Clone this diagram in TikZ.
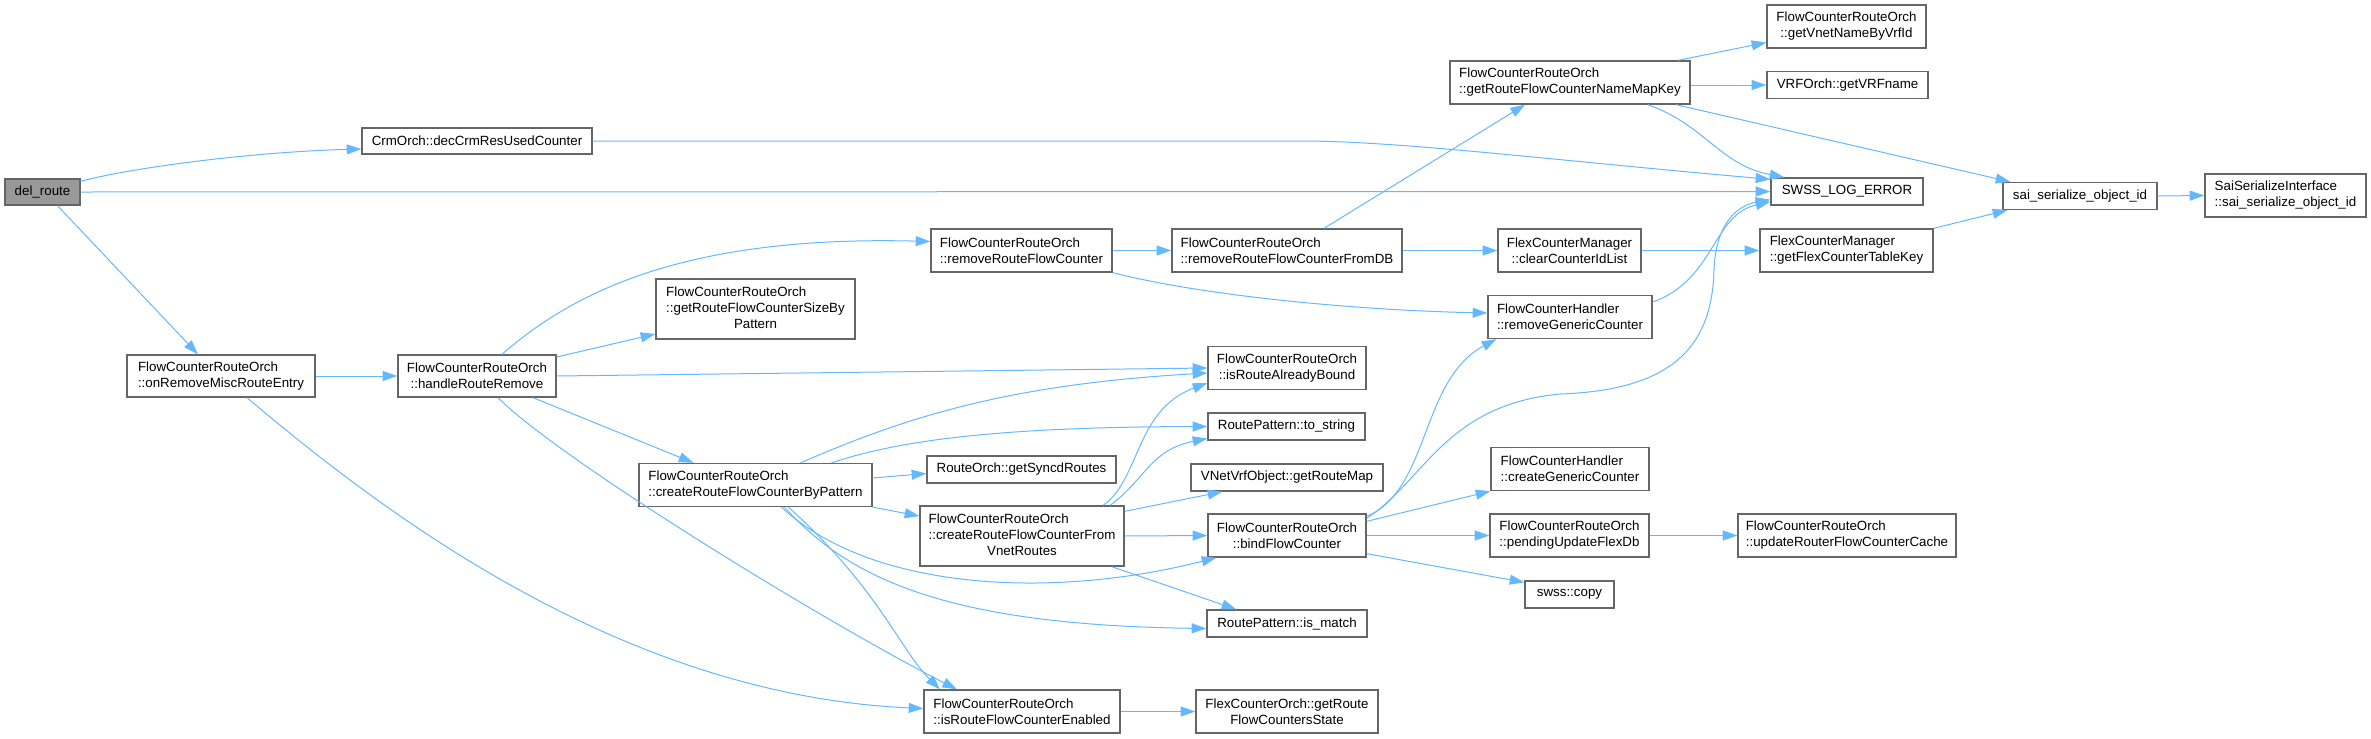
\documentclass[tikz,border=0pt]{standalone}
\usepackage{fontspec}
\setmainfont{Liberation Sans}
\usepackage{tikz}
\usetikzlibrary{arrows.meta,calc}
\definecolor{dxedge}{HTML}{63B8FF}
\definecolor{dxframe}{HTML}{666666}
\definecolor{dxroot}{HTML}{999999}

\begin{document}
\begin{tikzpicture}[
  x=0.75pt, y=-0.75pt,
  fn/.style={draw=dxframe,fill=white,line width=1pt,inner sep=0pt,font=\fontsize{10}{12}\selectfont},
  root/.style={fn,fill=dxroot},
  sz/.style 2 args={minimum width={#1*0.75pt},minimum height={#2*0.75pt}},
  call/.style={dxedge,line width=0.75pt,-{Triangle[length=11pt,width=7.5pt]}}
]
\useasboundingbox (0,0) rectangle (2371,739);

% callers on the left
\node[root,sz={75}{26}] (del) at (42.5,192) {del\_route};
\node[fn,sz={230}{26}] (crm) at (477,141) {CrmOrch::decCrmResUsedCounter};
\node[fn,sz={188}{42},align=left] (misc) at (221,376) {FlowCounterRouteOrch\\::onRemoveMiscRouteEntry};
\node[fn,sz={158}{42},align=center] (hrr) at (477,376) {FlowCounterRouteOrch\\::handleRouteRemove};

% middle columns
\node[fn,sz={199}{60}] (size) at (755.5,309) {\begin{tabular}{@{}l@{}}FlowCounterRouteOrch\\::getRouteFlowCounterSizeBy\\\multicolumn{1}{@{}c@{}}{Pattern}\end{tabular}};
\node[fn,sz={233}{43},align=left] (bypat) at (755.5,485) {FlowCounterRouteOrch\\::createRouteFlowCounterByPattern};
\node[fn,sz={181}{43},align=left] (rrfc) at (1021.5,250.5) {FlowCounterRouteOrch\\::removeRouteFlowCounter};
\node[fn,sz={189}{27}] (sync) at (1021.5,469.5) {RouteOrch::getSyncdRoutes};
\node[fn,sz={204}{60}] (vnetr) at (1022,536) {\begin{tabular}{@{}l@{}}FlowCounterRouteOrch\\::createRouteFlowCounterFrom\\\multicolumn{1}{@{}c@{}}{VnetRoutes}\end{tabular}};
\node[fn,sz={196}{43},align=left] (enab) at (1022,711.5) {FlowCounterRouteOrch\\::isRouteFlowCounterEnabled};

\node[fn,sz={230}{43},align=left] (rdb) at (1287,250.5) {FlowCounterRouteOrch\\::removeRouteFlowCounterFromDB};
\node[fn,sz={158}{43},align=center] (bound) at (1287,368) {FlowCounterRouteOrch\\::isRouteAlreadyBound};
\node[fn,sz={157}{27}] (tostr) at (1286.5,426.5) {RoutePattern::to\_string};
\node[fn,sz={192}{27}] (rmap) at (1287,477.5) {VNetVrfObject::getRouteMap};
\node[fn,sz={158}{43},align=center] (bind) at (1287,535.5) {FlowCounterRouteOrch\\::bindFlowCounter};
\node[fn,sz={160}{27}] (match) at (1287,623.5) {RoutePattern::is\_match};
\node[fn,sz={182}{43},align=center] (state) at (1287,711.5) {FlexCounterOrch::getRoute\\FlowCountersState};

\node[fn,sz={240}{43},align=left] (nmk) at (1570,82.5) {FlowCounterRouteOrch\\::getRouteFlowCounterNameMapKey};
\node[fn,sz={143}{43},align=center] (ccl) at (1569.5,250.5) {FlexCounterManager\\::clearCounterIdList};
\node[fn,sz={164}{43},align=left] (rgc) at (1570,317) {FlowCounterHandler\\::removeGenericCounter};
\node[fn,sz={158}{43},align=left] (cgc) at (1570,469) {FlowCounterHandler\\::createGenericCounter};
\node[fn,sz={159}{43},align=left] (pufd) at (1569.5,535.5) {FlowCounterRouteOrch\\::pendingUpdateFlexDb};
\node[fn,sz={89}{27}] (copy) at (1569.5,594.5) {swss::copy};

% right side
\node[fn,sz={159}{43},align=center] (vnet) at (1846.5,26.5) {FlowCounterRouteOrch\\::getVnetNameByVrfId};
\node[fn,sz={161}{27}] (vrf) at (1847.5,85) {VRFOrch::getVRFname};
\node[fn,sz={152}{27}] (swss) at (1847,191.5) {SWSS\_LOG\_ERROR};
\node[fn,sz={173}{43},align=left] (fctk) at (1846.5,250.5) {FlexCounterManager\\::getFlexCounterTableKey};
\node[fn,sz={218}{43},align=left] (urfc) at (1847,535.5) {FlowCounterRouteOrch\\::updateRouterFlowCounterCache};
\node[fn,sz={154}{27}] (sai) at (2080,196) {sai\_serialize\_object\_id};
\node[fn,sz={161}{43},align=left] (sii) at (2285.5,195.5) {SaiSerializeInterface\\::sai\_serialize\_object\_id};

% straight calls
\foreach \a/\b in {misc/hrr,rrfc/rdb,rdb/ccl,ccl/fctk,sai/sii,vnetr/bind,bind/pufd,pufd/urfc,enab/state}
  \draw[call] (\a.east) -- (\b.west);
\draw[call] (del.east) -- (swss.west);
\draw[call] ($(del.south)+(15,0)$) -- ($(misc.north)+(-23,0)$);
\draw[call] ($(hrr.east)+(0,-19)$) -- ($(size.west)+(0,25)$);
\draw[call] (hrr.east) -- (bound.west);
\draw[call] ($(hrr.south)+(56,0)$) -- ($(bypat.north)+(-62,0)$);
\draw[call] ($(rdb.north)+(37,0)$) -- ($(nmk.south)+(-45,0)$);
\draw[call] ($(nmk.north)+(108,0)$) -- ($(vnet.west)+(0,16)$);
\draw[call] (nmk.east |- vrf.west) -- (vrf.west);
\draw[call] ($(nmk.south)+(106,0)$) -- ($(sai.north west)+(8,0)$);
\draw[call] (fctk.north east) -- ($(sai.south west)+(5,0)$);
\draw[call] ($(bind.north east)+(0,8)$) -- (cgc.south west);
\draw[call] ($(bind.south east)+(0,-4)$) -- ($(copy.north west)+(0,2)$);
\draw[call] ($(vnetr.north east)+(0,6)$) -- ($(rmap.south west)+(32,0)$);
\draw[call] ($(vnetr.south east)+(-13,0)$) -- ($(match.north west)+(30,0)$);
\draw[call] ($(bypat.east)+(0,-7)$) -- ($(sync.west)+(0,4)$);
\draw[call] (bypat.south east) -- ($(vnetr.west)+(0,-20)$);

% curved calls
\draw[call] ($(del.north east)+(0,3)$) .. controls (130,168) and (250,152) .. ($(crm.west)+(0,8)$);
\draw[call] (crm.east) -- (1300,141) .. controls (1400,141) and (1550,160) .. ($(swss.north west)+(0,2)$);
\draw[call] ($(misc.south)+(26,0)$) .. controls (380,510) and (620,695) .. ($(enab.west)+(0,-3)$);
\draw[call] ($(hrr.north)+(25,0)$) .. controls (570,295) and (680,235) .. ($(rrfc.west)+(0,-9)$);
\draw[call] ($(hrr.south)+(21,0)$) .. controls (560,460) and (830,625) .. ($(enab.north)+(-65,0)$);
\draw[call] (rrfc.south east) .. controls (1200,295) and (1350,310) .. ($(rgc.west)+(0,-4)$);
\draw[call] ($(nmk.south)+(78,0)$) .. controls (1705,125) and (1720,165) .. ($(swss.north west)+(14,0)$);
\draw[call] ($(rgc.east)+(0,-15)$) .. controls (1715,280) and (1712,215) .. ($(swss.south west)+(0,-4)$);
\draw[call] ($(bind.north east)+(0,3)$) .. controls (1430,490) and (1420,380) .. ($(rgc.south west)+(9,0)$);
\draw[call] ($(bind.north east)+(0,5)$) .. controls (1425,480) and (1445,405) .. (1560,394)
  .. controls (1680,390) and (1712,340) .. (1714,270)
  .. controls (1716,220) and (1740,205) .. ($(swss.south west)+(0,-6)$);
\draw[call] ($(vnetr.north)+(81,0)$) .. controls (1140,480) and (1135,410) .. ($(bound.west)+(0,15)$);
\draw[call] ($(vnetr.north)+(88,0)$) .. controls (1145,480) and (1150,450) .. ($(tostr.west)+(0,12)$);
\draw[call] ($(bypat.north)+(45,0)$) .. controls (900,420) and (1000,385) .. ($(bound.west)+(0,5)$);
\draw[call] ($(bypat.north)+(76,0)$) .. controls (900,440) and (1000,427) .. (tostr.west);
\draw[call] ($(bypat.south)+(26,0)$) .. controls (870,590) and (1050,600) .. ($(bind.south west)+(9,0)$);
\draw[call] ($(bypat.south)+(29,0)$) .. controls (850,580) and (950,625) .. ($(match.west)+(0,5)$);
\draw[call] ($(bypat.south)+(33,0)$) .. controls (880,590) and (900,650) .. ($(enab.north)+(-82,0)$);
\end{tikzpicture}
\end{document}
